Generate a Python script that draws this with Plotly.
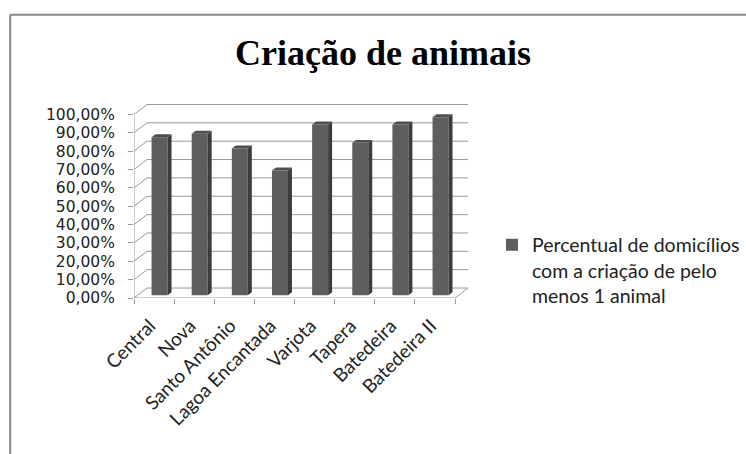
import plotly.graph_objects as go

# ---------------- data ----------------
categories = ["Central", "Nova", "Santo Antônio", "Lagoa Encantada",
              "Varjota", "Tapera", "Batedeira", "Batedeira II"]
values = [86, 88, 80, 68, 93, 83, 93, 97]
y_tick_values = [0, 10, 20, 30, 40, 50, 60, 70, 80, 90, 100]
y_tick_labels = [f"{v:.2f}".replace(".", ",") + "%" for v in y_tick_values]
series_name = "Percentual de domicílios<br>com a criação de pelo<br>menos 1 animal"
title_text = "Criação de animais"

# ---------------- geometry (pixel-based layout) ----------------
W, H = 746, 454
PL, PR = 133.5, 468.0      # plot area left/right px
PT, PB = 100.0, 298.5      # plot area top/bottom px
XPX = 40.2                 # px per category
YPX = 1.84                 # px per percent

n = len(categories)
xr = [-0.5, -0.5 + (PR - PL) / XPX]
yr = [0, (PB - PT) / YPX]

# wall depth offsets (data units)
OX, OY = 13 / XPX, 10 / YPX
# bar placement
BW = 16 / XPX          # front face width
BX = 5.5 / XPX         # front face centre shift
BY = 2.8 / YPX         # front face base shift
DX, DY = 4 / XPX, 3 / YPX   # bar depth

grid_col = "#999999"
front_col = "#5e5e5e"
side_col = "#3c3c3c"
top_col = "#4e4e4e"

fig = go.Figure()

xs = list(range(n))
fig.add_trace(go.Bar(
    x=xs, y=values, base=BY, width=BW, offset=BX - BW / 2,
    marker=dict(color=front_col, line=dict(width=0)),
    name=series_name, showlegend=True, hoverinfo="skip",
))

for i, v in zip(xs, values):
    xl = i + BX - BW / 2
    xrr = i + BX + BW / 2
    # side face
    fig.add_trace(go.Scatter(
        x=[xrr, xrr + DX, xrr + DX, xrr, xrr],
        y=[BY, BY + DY, BY + DY + v, BY + v, BY],
        fill="toself", fillcolor=side_col, mode="lines",
        line=dict(width=0), showlegend=False, hoverinfo="skip"))
    # top face
    fig.add_trace(go.Scatter(
        x=[xl, xrr, xrr + DX, xl + DX, xl],
        y=[BY + v, BY + v, BY + v + DY, BY + v + DY, BY + v],
        fill="toself", fillcolor=top_col, mode="lines",
        line=dict(width=0), showlegend=False, hoverinfo="skip"))

shapes = []
x_left, x_right = -0.5, n - 0.5
for v in y_tick_values:
    # side wall
    shapes.append(dict(type="line", x0=x_left, y0=v, x1=x_left + OX, y1=v + OY,
                       line=dict(color=grid_col, width=1), layer="below"))
    # back wall
    shapes.append(dict(type="line", x0=x_left + OX, y0=v + OY, x1=x_right + OX, y1=v + OY,
                       line=dict(color=grid_col, width=1), layer="below"))
# front vertical axis line
shapes.append(dict(type="line", x0=x_left, y0=0, x1=x_left, y1=100,
                   line=dict(color=grid_col, width=1), layer="below"))
# front floor edge
shapes.append(dict(type="line", x0=x_left, y0=0, x1=x_right, y1=0,
                   line=dict(color=grid_col, width=1), layer="below"))
# right floor edge
shapes.append(dict(type="line", x0=x_right, y0=0, x1=x_right + OX, y1=OY,
                   line=dict(color=grid_col, width=1), layer="below"))

# chart border (grey frame: left and top edges visible)
pw, ph = PR - PL, PB - PT
bx = (9.5 - PL) / pw
by = (PB - 14.5) / ph
shapes.append(dict(type="line", xref="paper", yref="paper",
                   x0=bx, x1=bx, y0=(PB - (H + 10)) / ph, y1=by,
                   line=dict(color="#888888", width=2)))
shapes.append(dict(type="line", xref="paper", yref="paper",
                   x0=bx, x1=(W + 10 - PL) / pw, y0=by, y1=by,
                   line=dict(color="#888888", width=2)))

fig.update_layout(
    width=W, height=H,
    margin=dict(l=PL, r=W - PR, t=PT, b=H - PB, pad=0, autoexpand=False),
    paper_bgcolor="white", plot_bgcolor="rgba(0,0,0,0)",
    title=dict(text=title_text, x=383 / W, xref="container", xanchor="center",
               y=1 - 52 / H, yref="container", yanchor="middle",
               font=dict(family="Liberation Serif", size=36, color="black", weight="bold")),
    shapes=shapes,
    showlegend=True,
    legend=dict(x=(492 - PL) / pw, xanchor="left", y=(PB - 226) / ph, yanchor="top",
                valign="top", font=dict(family="Lato", size=19.5, color="#222222"),
                bgcolor="rgba(0,0,0,0)", borderwidth=0, itemclick=False),
    xaxis=dict(range=xr, tickmode="array", tickvals=xs, ticktext=categories,
               tickangle=-45, ticks="", showgrid=False, zeroline=False, showline=False,
               ticklabelstandoff=12, ticklabelshift=-4,
               tickfont=dict(family="Lato", size=19, color="#222222"), fixedrange=True),
    xaxis2=dict(range=xr, overlaying="x", anchor="y", side="bottom",
                tickmode="array", tickvals=[i - 0.5 for i in range(n + 1)],
                ticktext=["" for _ in range(n + 1)],
                ticks="outside", ticklen=5, tickcolor=grid_col, tickwidth=1,
                showgrid=False, zeroline=False, showline=False, fixedrange=True),
    yaxis=dict(range=yr, tickmode="array", tickvals=y_tick_values, ticktext=y_tick_labels,
               ticks="outside", ticklen=5,
               tickcolor=grid_col, tickwidth=1, ticklabelstandoff=10,
               showgrid=False, zeroline=False, showline=False,
               tickfont=dict(family="DejaVu Sans", size=15.5, color="#222222"), fixedrange=True),
)
# invisible helper trace to activate the boundary-tick axis
fig.add_trace(go.Scatter(x=[x_left], y=[0], xaxis="x2", mode="markers",
                         marker=dict(opacity=0), showlegend=False, hoverinfo="skip"))

fig.write_html("out.html")
